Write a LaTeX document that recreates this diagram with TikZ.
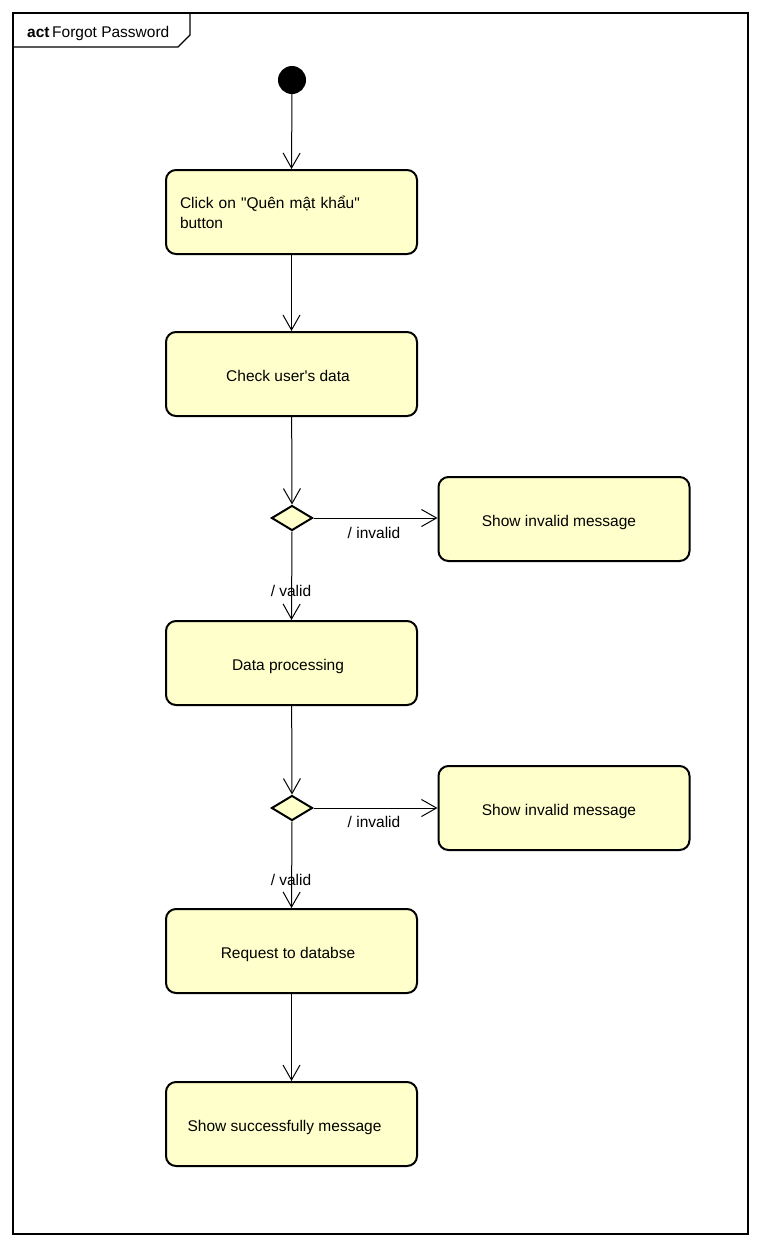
\documentclass[tikz,border=0pt]{standalone}
\usepackage{fontspec}
\setmainfont{Liberation Sans}[Ligatures=TeXOff]
\usetikzlibrary{arrows.meta,shapes.geometric}
\definecolor{actfill}{RGB}{255,255,204}
\tikzset{
  x=1pt, y=-1pt,
  every node/.style={font=\fontsize{15.5}{20}\selectfont, inner sep=0pt},
  action/.style={draw=black, line width=2pt, rounded corners=10pt, fill=actfill,
    minimum width=251pt, minimum height=84pt},
  oneline/.style={text height=15pt, text depth=0pt},
  decision/.style={draw=black, line width=2pt, fill=actfill, diamond,
    minimum width=41pt, minimum height=25pt, aspect=1.64},
  flow/.style={line width=1pt, -{Straight Barb[length=15pt,width=17pt,line width=1pt]}},
  guard/.style={text height=11pt, text depth=3pt}
}
\begin{document}
\begin{tikzpicture}
\useasboundingbox (0,0) rectangle (761,1248);
% diagram frame with title tab
\draw[line width=1.2pt] (13,13) rectangle (748,1234);
\draw[line width=1.2pt] (13,47) -- (178,47) -- (190,35) -- (190,13);
\node[anchor=base west] (title) at (27,37) {\textbf{act}\,Forgot Password};

% initial node
\fill (292,80) circle (14);
\coordinate (start) at (292,94);

% actions
\node[action, text width=223pt, align=left] (click) at (291.5,212) {Click on "Quên mật khẩu"\\button};
\node[action, oneline] (check) at (291.5,374) {\hspace*{-7pt}Check user's data};
\node[decision] (d1) at (292,518) {};
\node[action, oneline] (inv1) at (564,519) {\hspace*{-10pt}Show invalid message};
\node[action, oneline] (proc) at (291.5,663) {\hspace*{-7pt}Data processing};
\node[decision] (d2) at (292,808) {};
\node[action, oneline] (inv2) at (564,808) {\hspace*{-10pt}Show invalid message};
\node[action, oneline] (req) at (291.5,951) {\hspace*{-7pt}Request to databse};
\node[action, oneline] (succ) at (291.5,1124) {\hspace*{-14pt}Show successfully message};

% control flows
\draw[flow] (start) -- (click.north);
\draw[flow] (click) -- (check);
\draw[flow] (check) -- (d1.north);
\draw[flow] (d1.east) -- (d1.east -| inv1.west);
\draw[flow] (d1.south) -- (proc.north);
\draw[flow] (proc) -- (d2.north);
\draw[flow] (d2.east) -- (d2.east -| inv2.west);
\draw[flow] (d2.south) -- (req.north);
\draw[flow] (req) -- (succ);

% guards
\node[guard] (g1) at (374,534) {/ invalid};
\node[guard] (g2) at (291,592) {/ valid};
\node[guard] (g3) at (374,823) {/ invalid};
\node[guard] (g4) at (291,881) {/ valid};
\end{tikzpicture}
\end{document}
